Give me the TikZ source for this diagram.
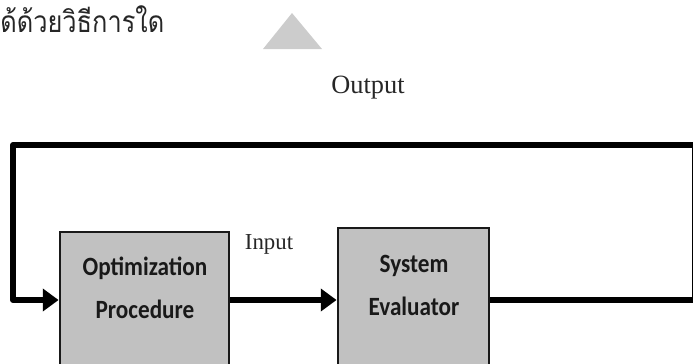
\documentclass[tikz,border=0pt]{standalone}
\usepackage{fontspec}
\usepackage{xcolor}
\usepackage{tikz}
\usetikzlibrary{positioning,arrows.meta}
\setmainfont{Liberation Serif}
\newfontfamily\thaifont[Script=Thai,FakeStretch=0.85]{Loma}
\newfontfamily\boxfont[FakeStretch=0.88]{Carlito}
\definecolor{boxgray}{RGB}{193,193,193}
\definecolor{trigray}{RGB}{204,204,204}
\tikzset{
  box/.style={draw=black!90, line width=1.6pt, fill=boxgray, inner sep=0pt},
  boxtext/.style={font=\boxfont\bfseries\fontsize{15}{24.5}\selectfont, text=black!90, align=center},
  tag/.style={font=\fontsize{13}{15}\selectfont, text=black!85},
  flow/.style={line width=3.4pt, line join=round, -{Triangle[length=9pt,width=12.5pt]}}
}
\begin{document}
\begin{tikzpicture}[x=0.02cm, y=-0.02cm]
  \useasboundingbox (0,0) rectangle (693,363);
  \clip (0,0) rectangle (693,363);
  % heading and marker
  \node[anchor=west, inner sep=0pt, font=\thaifont\fontsize{17}{20}\selectfont, text=black!85] (head) at (0,19) {ด้ด้วยวิธีการใด};
  \fill[trigray] (263,49) -- (292,13) -- (322,49) -- cycle;
  % blocks
  \node[box, minimum width=169*0.02cm, minimum height=136*0.02cm] (opt) at (144.5,300) {};
  \node[box, minimum width=151*0.02cm, minimum height=144*0.02cm] (sys) at (413.5,300) {};
  \node[boxtext] (optlabel) at (145,288) {Optimization\\Procedure};
  \node[boxtext] (syslabel) at (414,285) {System\\Evaluator};
  % labels
  \node[tag, font=\fontsize{15}{17}\selectfont] (out) at (368,88) {Output};
  \node[tag] (in) at (269,244) {Input};
  % loop corners
  \coordinate (topr) at (695,145);
  \coordinate (topl) at (13,145);
  \draw[flow] (opt.east) -- (sys.west);
  \draw[flow] (sys.east) -| (topr) -| (topl) |- (opt.west);
\end{tikzpicture}
\end{document}
